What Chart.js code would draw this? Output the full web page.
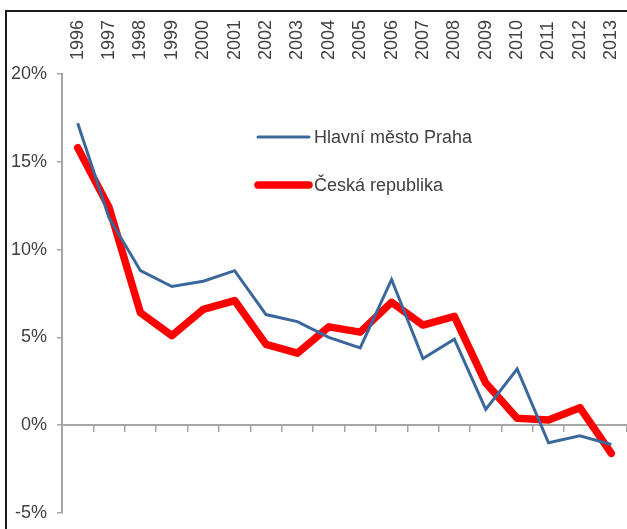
<!DOCTYPE html>
<html>
<head>
<meta charset="utf-8">
<script src="https://cdn.jsdelivr.net/npm/chart.js@4/dist/chart.umd.min.js"></script>
<style>
  html, body { margin: 0; padding: 0; background: #fff; overflow: hidden; }
  #wrap { position: relative; width: 627px; height: 529px; }
  #frame { position: absolute; left: 5px; top: 10px; width: 640px; height: 540px;
           border-left: 2px solid #1a1a1a; border-top: 2px solid #1a1a1a; box-sizing: border-box; }
  canvas { position: absolute; left: 0; top: 0; }
</style>
</head>
<body>
<div id="wrap">
  <div id="frame"></div>
  <canvas id="c" width="627" height="529"></canvas>
</div>
<script>
const years = ['1996','1997','1998','1999','2000','2001','2002','2003','2004','2005','2006','2007','2008','2009','2010','2011','2012','2013'];
const praha = [17.2, 11.8, 8.8, 7.9, 8.2, 8.8, 6.3, 5.9, 5.0, 4.4, 8.3, 3.8, 4.9, 0.9, 3.2, -1.0, -0.6, -1.1];
const cr    = [15.8, 12.4, 6.4, 5.1, 6.6, 7.1, 4.6, 4.1, 5.6, 5.3, 7.0, 5.7, 6.2, 2.4, 0.4, 0.3, 1.0, -1.6];
const yTicks = [-5, 0, 5, 10, 15, 20];
const seriesNames = ['Hlavní město Praha', 'Česká republika'];

const FONT = 'Liberation Sans, Arial, sans-serif';
const TEXT = '#404040';
const AXIS = '#a6a6a6';

const legendPlugin = {
  id: 'inlineLegend',
  afterDatasetsDraw(chart) {
    const ctx = chart.ctx;
    const rows = [137, 185];
    ctx.save();
    chart.data.datasets.forEach((ds, i) => {
      const y = rows[i];
      ctx.beginPath();
      ctx.strokeStyle = ds.borderColor;
      ctx.lineWidth = ds.borderWidth;
      ctx.lineCap = 'round';
      ctx.moveTo(258, y);
      ctx.lineTo(309, y);
      ctx.stroke();
      ctx.fillStyle = TEXT;
      ctx.font = '18px ' + FONT;
      ctx.textBaseline = 'middle';
      ctx.textAlign = 'left';
      ctx.fillText(ds.label, 314, y + 1);
    });
    ctx.restore();
  }
};

new Chart(document.getElementById('c'), {
  type: 'line',
  data: {
    labels: years,
    datasets: [
      { label: seriesNames[0], data: praha, borderColor: '#3a679c', borderWidth: 3,
        pointRadius: 0, tension: 0, fill: false, xAxisID: 'x', yAxisID: 'y',
        borderJoinStyle: 'miter' },
      { label: seriesNames[1], data: cr, borderColor: '#ff0000', borderWidth: 7.5,
        pointRadius: 0, tension: 0, fill: false, xAxisID: 'x', yAxisID: 'y',
        borderCapStyle: 'round', borderJoinStyle: 'round' }
    ]
  },
  options: {
    responsive: false,
    animation: false,
    events: [],
    layout: { padding: { left: 11, top: 20, right: 0, bottom: 16 } },
    plugins: { legend: { display: false }, tooltip: { enabled: false } },
    scales: {
      x: {
        type: 'category',
        position: { y: 0 },
        offset: true,
        grid: { display: true, offset: true, drawOnChartArea: false, drawTicks: true,
                tickLength: 6, color: AXIS, lineWidth: 1.5 },
        border: { display: true, color: AXIS, width: 2 },
        ticks: { display: false },
        afterFit(scale) { scale.height = 0; }
      },
      xTop: {
        type: 'category',
        position: 'top',
        labels: years,
        offset: true,
        grid: { display: false, drawTicks: false },
        border: { display: false },
        ticks: { autoSkip: false, minRotation: 90, maxRotation: 90, padding: 14,
                 labelOffset: 21.6,
                 color: TEXT, font: { family: FONT, size: 18 } },
        afterFit(scale) { scale.height = 54; scale.paddingLeft = 0; scale.paddingRight = 0; }
      },
      y: {
        type: 'linear',
        min: -5, max: 20,
        afterBuildTicks(scale) { scale.ticks = yTicks.map(v => ({ value: v })); },
        grid: { display: true, drawOnChartArea: false, drawTicks: true, tickLength: 5,
                color: AXIS, lineWidth: 1.5 },
        border: { display: true, color: AXIS, width: 2 },
        ticks: { padding: 10, color: TEXT, font: { family: FONT, size: 18 },
                 callback: v => v + '%' },
        afterFit(scale) { scale.width = 51; scale.paddingTop = 0; scale.paddingBottom = 0; }
      }
    }
  },
  plugins: [legendPlugin]
});
</script>
</body>
</html>
